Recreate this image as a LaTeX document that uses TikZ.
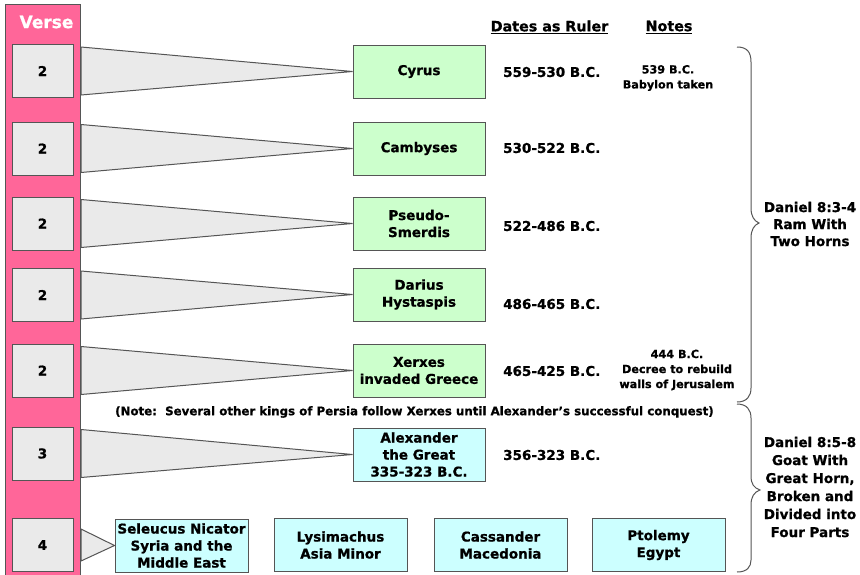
\documentclass[tikz,border=0pt]{standalone}
\usepackage{fontspec}
\setmainfont{DejaVu Sans}[BoldFeatures={FakeBold=0.8}]
\definecolor{versepink}{HTML}{FF6699}
\definecolor{versegray}{HTML}{EAEAEA}
\definecolor{kinggreen}{HTML}{CCFFCC}
\definecolor{greekcyan}{HTML}{CCFFFF}
\definecolor{bordergray}{HTML}{555555}
\begin{document}
\begin{tikzpicture}[x=1pt,y=-1pt,
  every node/.style={font=\bfseries\fontsize{13.5}{17}\selectfont, text=black},
  box/.style={draw=bordergray, line width=1pt, inner sep=0pt, align=center, minimum height=53pt},
  versebox/.style={box, fill=versegray, minimum width=61pt},
  kingbox/.style={box, fill=kinggreen, minimum width=132pt},
  greekbox/.style={box, fill=greekcyan, minimum width=133pt},
  tri/.style={draw=bordergray, line width=1pt, fill=versegray, line join=miter},
  datetext/.style={anchor=west, inner sep=0pt},
  notetext/.style={font=\bfseries\fontsize{11.2}{15}\selectfont, align=center, inner sep=0pt},
  bracetext/.style={align=center, inner sep=0pt},
  bracepath/.style={draw=bordergray, line width=1pt},
]
\useasboundingbox (0,0) rectangle (860,574);
\fill[white] (0,0) rectangle (860,574);
% verse strip
\node[draw=bordergray, line width=1pt, fill=versepink, minimum width=75pt, minimum height=580pt, anchor=north west, inner sep=0pt] (strip) at (5,4) {};
\node[text=white, font=\bfseries\fontsize{17}{17}\selectfont] (vh) at (46.5,22) {Verse};
% verse boxes
\node[versebox] (v1) at (42.5,71) {2};
\node[versebox] (v2) at (42.5,148.5) {2};
\node[versebox] (v3) at (42.5,223.5) {2};
\node[versebox] (v4) at (42.5,295) {2};
\node[versebox] (v5) at (42.5,370.5) {2};
\node[versebox] (v6) at (42.5,453.5) {3};
\node[versebox] (v7) at (42.5,545) {4};
% king boxes
\node[kingbox] (k1) at (419,71.5) {Cyrus};
\node[kingbox] (k2) at (419,148.5) {Cambyses};
\node[kingbox] (k3) at (419,223.5) {Pseudo-\\Smerdis};
\node[kingbox] (k4) at (419,294.5) {Darius\\Hystaspis};
\node[kingbox] (k5) at (419,370.5) {Xerxes\\invaded Greece};
\node[greekbox, minimum width=132pt] (k6) at (419,454.5) {Alexander\\the Great\\335-323 B.C.};
% four parts
\node[greekbox] (g1) at (181.5,545.5) {Seleucus Nicator\\Syria and the\\Middle East};
\node[greekbox] (g2) at (340.5,545) {Lysimachus\\Asia Minor};
\node[greekbox] (g3) at (500.5,545) {Cassander\\Macedonia};
\node[greekbox] (g4) at (658.5,545) {Ptolemy\\Egypt};
% triangles
\foreach \v/\k in {v1/k1,v2/k2,v3/k3,v4/k4,v5/k5,v6/k6}{
  \draw[tri] ([yshift=-3pt]\v.north -| strip.east) -- (\k.west) -- ([yshift=3pt]\v.south -| strip.east) -- cycle;
}
\draw[tri] ([yshift=-11pt]v7.north -| strip.east) -- (g1.west) -- ([yshift=11pt]v7.south -| strip.east) -- cycle;
% headers
\node[inner sep=0pt, font=\bfseries\fontsize{14.3}{17}\selectfont] (hd) at (549.5,27) {\underline{Dates as Ruler}};
\node[inner sep=0pt, font=\bfseries\fontsize{14.3}{17}\selectfont] (hn) at (669,27) {\underline{Notes}};
% dates
\node[datetext] (d1) at (503,72) {559-530 B.C.};
\node[datetext] (d2) at (503,148) {530-522 B.C.};
\node[datetext] (d3) at (503,226) {522-486 B.C.};
\node[datetext] (d4) at (503,304) {486-465 B.C.};
\node[datetext] (d5) at (503,371) {465-425 B.C.};
\node[datetext] (d6) at (503,455) {356-323 B.C.};
% notes
\node[notetext] (n1) at (668,78) {539 B.C.\\Babylon taken};
\node[notetext] (n2) at (677,370) {444 B.C.\\Decree to rebuild\\walls of Jerusalem};
\node[notetext, font=\bfseries\fontsize{11.8}{15}\selectfont, anchor=west] (n3) at (115,412) {(Note:\ \ Several other kings of Persia follow Xerxes until Alexander's successful conquest)};
% braces
\coordinate (b1top) at (737,47);
\coordinate (b1tip) at (759,223);
\coordinate (b1bot) at (737,402);
\coordinate (b2top) at (737,404);
\coordinate (b2tip) at (760,490);
\coordinate (b2bot) at (737,572);
\draw[bracepath] (b1top) .. controls (747,47) and (751,52) .. (751,62) -- (751,208)
  .. controls (751,216) and (754,221) .. (b1tip)
  .. controls (754,225) and (751,230) .. (751,238) -- (751,388)
  .. controls (751,396) and (747,402) .. (b1bot);
\draw[bracepath] (b2top) .. controls (747,404) and (751,410) .. (751,418) -- (751,476)
  .. controls (751,484) and (754,488) .. (b2tip)
  .. controls (754,492) and (751,497) .. (751,505) -- (751,560)
  .. controls (751,567) and (747,572) .. (b2bot);
\node[bracetext] (r1) at (810,224) {Daniel 8:3-4\\Ram With\\Two Horns};
\node[bracetext, font=\bfseries\fontsize{13.5}{18}\selectfont] (r2) at (810,487) {Daniel 8:5-8\\Goat With\\Great Horn,\\Broken and\\Divided into\\Four Parts};
\end{tikzpicture}
\end{document}
